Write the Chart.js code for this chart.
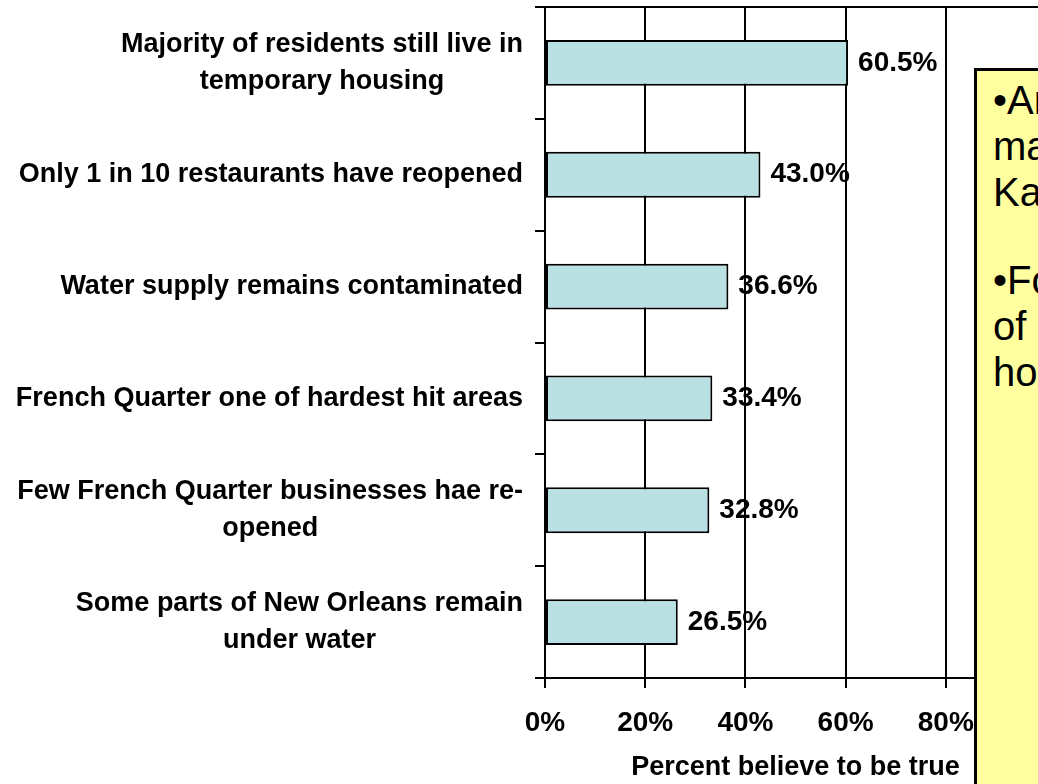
<!DOCTYPE html>
<html>
<head>
<meta charset="utf-8">
<script src="https://cdn.jsdelivr.net/npm/chart.js@4.4.1/dist/chart.umd.min.js"></script>
<style>
  html, body { margin: 0; padding: 0; background: #fff; width: 1038px; height: 784px; overflow: hidden; }
  #wrap { position: absolute; left: 0; top: 0; width: 1100px; height: 784px; }
  #note {
    position: absolute; left: 974px; top: 68px; width: 300px; height: 760px;
    box-sizing: border-box; border: 3px solid #000; background: #ffffa0;
    padding: 6px 0 0 16px;
    font: 40px/46px "Liberation Sans", Arial, sans-serif; color: #000;
    white-space: nowrap;
  }
  #note p { margin: 0 0 42px 0; }
</style>
</head>
<body>
<div id="wrap"><canvas id="chart"></canvas></div>
<div id="note">
  <p>•Ar<br>ma<br>Ka</p>
  <p>•Fo<br>of<br>ho</p>
</div>
<script>
const FONT = '"Liberation Sans", Arial, sans-serif';

const categories = [
  ["Majority of residents still live in", "temporary housing"],
  ["Only 1 in 10 restaurants have reopened"],
  ["Water supply remains contaminated"],
  ["French Quarter one of hardest hit areas"],
  ["Few French Quarter businesses hae re-", "opened"],
  ["Some parts of New Orleans remain", "under water"],
];
const values = [60.5, 43.0, 36.6, 33.4, 32.8, 26.5];
const xTicks = [0, 20, 40, 60, 80, 100];
const xTitle = "Percent believe to be true";

Chart.defaults.font.family = FONT;
Chart.defaults.color = "#000";

// category names: block right-aligned to the axis, lines centred inside it
const categoryLabels = {
  id: "categoryLabels",
  afterDraw(chart) {
    const { ctx, chartArea } = chart;
    const y = chart.scales.y;
    ctx.save();
    ctx.font = "bold 27px " + FONT;
    ctx.fillStyle = "#000";
    ctx.textAlign = "center";
    ctx.textBaseline = "middle";
    categories.forEach((lines, i) => {
      const yc = y.getPixelForValue(i);
      const w = Math.max(...lines.map((l) => ctx.measureText(l).width));
      const cx = chartArea.left - 22 - w / 2;
      lines.forEach((line, k) => {
        ctx.fillText(line, cx, yc + (k - (lines.length - 1) / 2) * 37);
      });
    });
    ctx.restore();
  },
};

const valueLabels = {
  id: "valueLabels",
  afterDatasetsDraw(chart) {
    const { ctx } = chart;
    ctx.save();
    ctx.font = "bold 28px " + FONT;
    ctx.fillStyle = "#000";
    ctx.textAlign = "left";
    ctx.textBaseline = "middle";
    chart.getDatasetMeta(0).data.forEach((bar, i) => {
      ctx.fillText(values[i].toFixed(1) + "%", bar.x + 10, bar.y);
    });
    ctx.restore();
  },
};

const topBorder = {
  id: "topBorder",
  beforeDatasetsDraw(chart) {
    const { ctx, chartArea } = chart;
    ctx.save();
    ctx.strokeStyle = "#000";
    ctx.lineWidth = 2;
    ctx.beginPath();
    ctx.moveTo(chartArea.left, chartArea.top);
    ctx.lineTo(chartArea.right, chartArea.top);
    ctx.stroke();
    ctx.restore();
  },
};

new Chart(document.getElementById("chart"), {
  type: "bar",
  data: {
    labels: categories,
    datasets: [
      {
        data: values,
        backgroundColor: "#b9e0e3",
        borderColor: "#000",
        borderWidth: 2,
        borderSkipped: false,
        barPercentage: 0.41,
        categoryPercentage: 1,
      },
    ],
  },
  options: {
    indexAxis: "y",
    responsive: true,
    maintainAspectRatio: false,
    animation: false,
    layout: { padding: { top: 7, right: 54, left: 0, bottom: 0 } },
    plugins: {
      legend: { display: false },
      tooltip: { enabled: false },
    },
    scales: {
      x: {
        min: xTicks[0],
        max: xTicks[xTicks.length - 1],
        afterBuildTicks: (scale) => {
          scale.ticks = xTicks.map((v) => ({ value: v }));
        },
        afterFit: (scale) => {
          scale.height = 106;
        },
        ticks: {
          callback: (v) => v + "%",
          font: { size: 28, weight: "bold" },
          padding: 18,
          maxRotation: 0,
          autoSkip: false,
        },
        grid: { color: "#000", lineWidth: 2, tickLength: 10 },
        border: { display: true, color: "#000", width: 2 },
        title: {
          display: true,
          text: xTitle,
          font: { size: 27, weight: "bold" },
          padding: { top: 0, bottom: 0 },
        },
      },
      y: {
        afterFit: (scale) => {
          scale.width = 545;
        },
        ticks: { display: false },
        grid: {
          drawOnChartArea: false,
          drawTicks: true,
          tickLength: 10,
          color: "#000",
          lineWidth: 2,
        },
        border: { display: true, color: "#000", width: 2 },
      },
    },
  },
  plugins: [topBorder, valueLabels, categoryLabels],
});
</script>
</body>
</html>
